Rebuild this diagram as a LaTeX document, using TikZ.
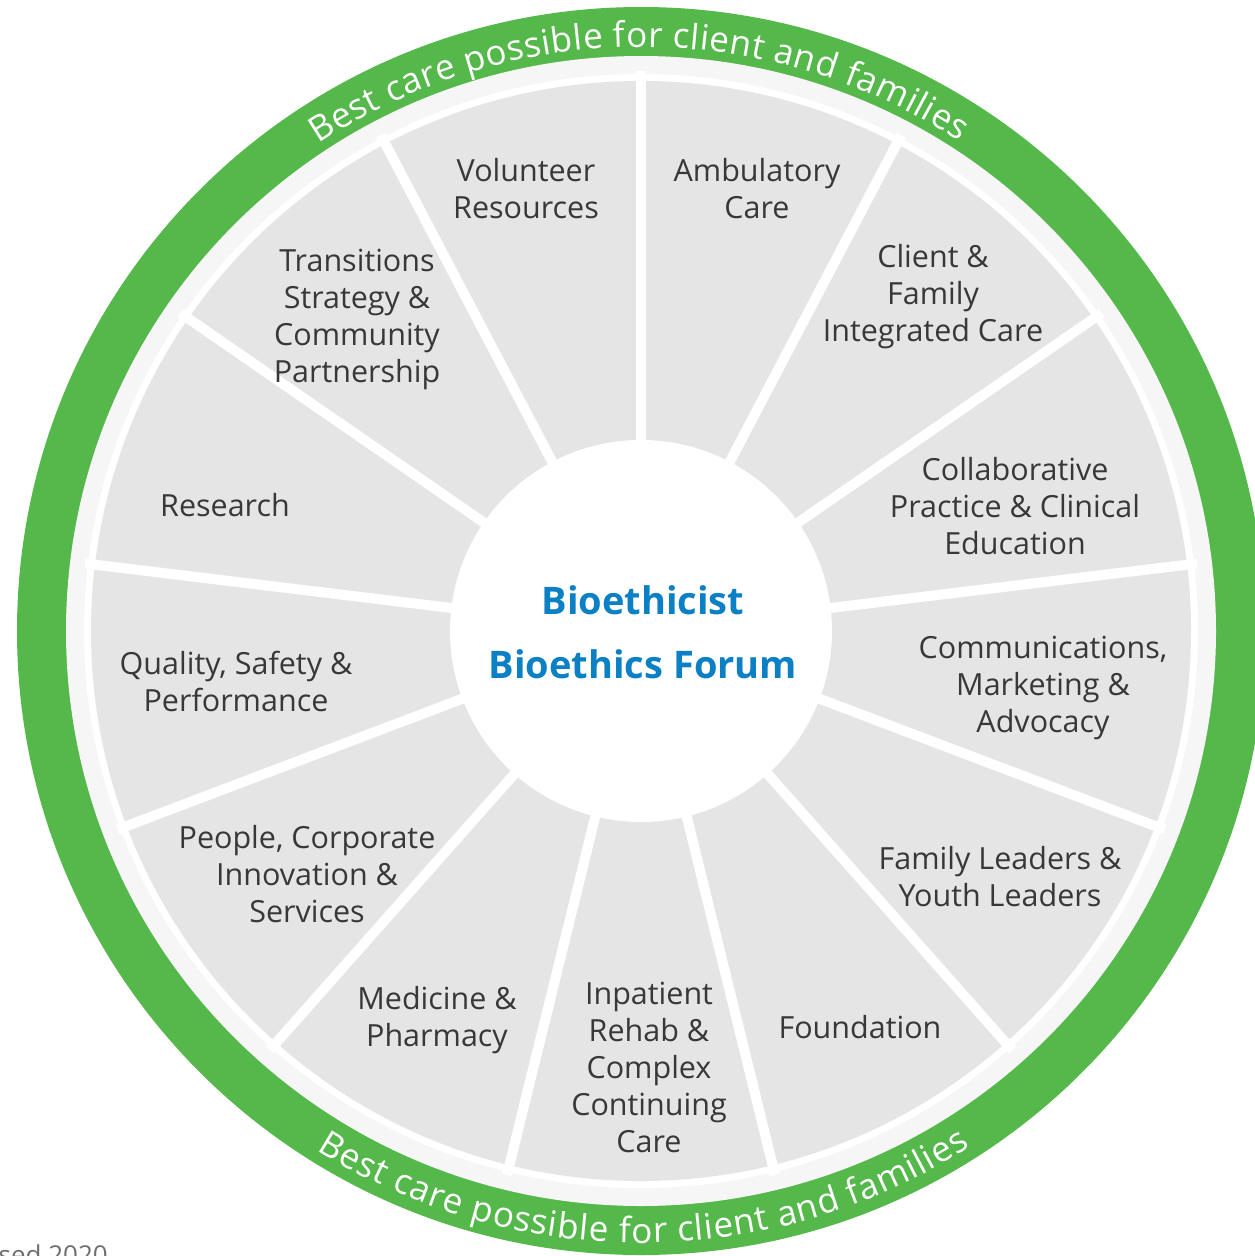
\documentclass[tikz,border=0pt]{standalone}
\usepackage{fontspec}
\setmainfont{Open Sans}
\newfontfamily\labfam{Open Sans}
\usetikzlibrary{decorations.text}
\definecolor{ringgreen}{HTML}{55B84A}
\definecolor{wedgegray}{HTML}{E5E5E5}
\definecolor{palering}{HTML}{F6F6F6}
\definecolor{labelgray}{HTML}{383838}
\definecolor{titleblue}{HTML}{0B80C4}
\definecolor{notegray}{HTML}{6F6F6F}
\tikzset{
  lbl/.style={align=center, anchor=base, text=labelgray, inner sep=0pt,
    font=\labfam\fontsize{30.5}{37}\selectfont},
  ttl/.style={align=center, anchor=base, text=titleblue, inner sep=0pt,
    font=\labfam\bfseries\fontsize{38}{64}\selectfont},
  sepline/.style={draw=white, line width=10pt},
  arctext/.style={decorate, decoration={text along path, text color=white,
    text align=fit to path,
    text={|\labfam\fontsize{35}{40}\selectfont|Best care possible for client and families}}},
}
\begin{document}
\begin{tikzpicture}[x=1pt,y=1pt]
\useasboundingbox (0,0) rectangle (1255,-1256);
\coordinate (c) at (641,-631);
\fill[ringgreen] (c) circle[radius=624];
\fill[palering] (c) circle[radius=575];
\fill[white] (c) circle[radius=557];
\fill[wedgegray] (c) circle[radius=550];
\foreach \k in {0,...,12}{
  \draw[sepline] (c) -- ([shift={(c)}]{90-\k*360/13}:560);
}
\fill[white] (c) circle[radius=191];
\path[arctext] ([shift={(c)}]123.5:584) arc[start angle=123.5, end angle=57, radius=584];
\path[arctext] ([shift={(c)}]-122:612) arc[start angle=-122, end angle=-57.5, radius=612];
\node[lbl] (vol) at (526,-218) {Volunteer\\Resources};
\node[lbl] (amb) at (757,-218) {Ambulatory\\Care};
\node[lbl] (cfic) at (933,-341) {Client \&\\Family\\Integrated Care};
\node[lbl] (cpce) at (1015,-554) {Collaborative\\Practice \& Clinical\\Education};
\node[lbl] (cma) at (1043,-732) {Communications,\\Marketing \&\\Advocacy};
\node[lbl] (flyl) at (1000,-906) {Family Leaders \&\\Youth Leaders};
\node[lbl] (fdn) at (860,-1038) {Foundation};
\node[lbl] (irc) at (649,-1152) {Inpatient\\Rehab \&\\Complex\\Continuing\\Care};
\node[lbl] (mp) at (437,-1046) {Medicine \&\\Pharmacy};
\node[lbl] (pcis) at (307,-922) {People, Corporate\\Innovation \&\\Services};
\node[lbl] (qsp) at (236,-711) {Quality, Safety \&\\Performance};
\node[lbl] (res) at (225,-516) {Research};
\node[lbl] (tscp) at (357,-382) {Transitions\\Strategy \&\\Community\\Partnership};
\node[ttl] (bio) at (643,-678) {Bioethicist\\Bioethics Forum};
\node[anchor=base east, text=notegray, inner sep=0pt,
  font=\labfam\fontsize{26}{30}\selectfont] (rev) at (108,-1264) {Revised 2020};
\end{tikzpicture}
\end{document}
